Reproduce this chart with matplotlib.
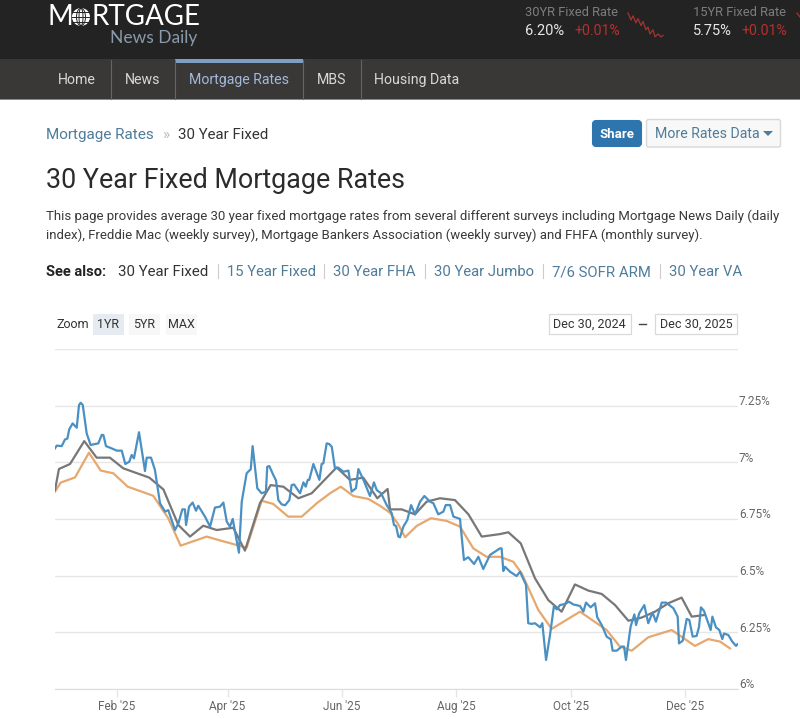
#!/usr/bin/python3
import pandas as pd
import matplotlib
matplotlib.use('Agg')
import matplotlib.pyplot as plt
import matplotlib.dates as mdates
from matplotlib.patches import Rectangle, FancyBboxPatch, Circle, Ellipse, Polygon

W, H = 800, 719
START = pd.Timestamp('2024-12-30')

# Mortgage News Daily index, days since Dec 30 2024
mnd_days = [0, 0.9, 3.6, 5.3, 6.6, 7.6, 9.4, 11.6, 12.8, 13.7, 14.8, 16.9, 19, 23.1, 24.9, 25.8, 27.2, 30.2, 32.9,
            35.6, 37.5, 39.6, 40.9, 42.1, 44.8, 48, 48.9, 51.2, 53.3, 56, 58.7, 60.4, 64, 65.8, 67.9, 69.3, 69.9,
            71.5, 73.4, 75.2, 76.4, 80, 82.7, 85.3, 88, 89.8, 91.6, 93.3, 94.8, 96, 98.1, 99.6, 102.2, 104.4, 105.4,
            107.9, 110.2, 112.5, 113.2, 114.3, 116.4, 117.9, 119.1, 120.9, 122.7, 125, 126.2, 127.5, 130.7, 132.5,
            133.7, 134.8, 135.6, 137.8, 141, 142.2, 143.1, 144.9, 146.3, 147.6, 149.3, 151.1, 153.8, 156.5, 158.2,
            160.5, 161.8, 164.4, 168, 170.1, 171.6, 173.9, 176.9, 179.6, 180.8, 181.9, 183.1, 184, 185.8, 187.9,
            189.9, 192, 194.7, 197, 200, 201.8, 204.4, 207.1, 208.4, 210.7, 212.5, 216, 218.1, 220.4, 223.5, 225.8,
            228.4, 232, 237.3, 238.2, 239.1, 240, 242.7, 246.2, 248, 251.2, 252.4, 254.2, 256, 258.7, 259.9, 261.9,
            264, 266.1, 267.6, 269.3, 272, 274.1, 276.4, 280, 281.8, 283.2, 285.7, 288, 289.2, 291.6, 294.2, 296.4,
            297.4, 299.6, 302.2, 303.5, 304.5, 307, 309, 309.9, 311.6, 314.3, 316.4, 318.7, 320.5, 323.6, 325.9,
            329.8, 332.1, 332.8, 334.8, 336.9, 338.3, 340.1, 342.2, 343.5, 344.5, 346.1, 349.7, 350.6, 352.5, 354.3,
            355.9, 356.8, 359.1, 361.2, 363.2, 363.9]
mnd_rates = [7.061, 7.073, 7.071, 7.10, 7.104, 7.145, 7.171, 7.152, 7.252, 7.262, 7.252, 7.127, 7.076, 7.083, 7.12,
             7.12, 7.071, 7.061, 7.051, 7.051, 6.992, 7.002, 7.032, 7.017, 7.132, 6.961, 7.02, 7.02, 6.966, 6.819,
             6.782, 6.789, 6.701, 6.73, 6.792, 6.792, 6.723, 6.804, 6.822, 6.786, 6.808, 6.76, 6.716, 6.80, 6.804,
             6.822, 6.738, 6.716, 6.75, 6.694, 6.601, 6.826, 6.951, 6.969, 7.071, 6.885, 6.863, 6.87, 6.98, 6.983,
             6.944, 6.919, 6.833, 6.814, 6.81, 6.833, 6.899, 6.902, 6.863, 6.911, 6.892, 6.922, 6.922, 6.992, 6.922,
             6.992, 6.995, 7.083, 7.08, 7.068, 6.973, 6.976, 6.958, 6.963, 6.87, 6.885, 6.97, 6.924, 6.851, 6.911,
             6.877, 6.863, 6.811, 6.775, 6.723, 6.719, 6.672, 6.669, 6.716, 6.745, 6.811, 6.77, 6.826, 6.851, 6.826,
             6.819, 6.77, 6.782, 6.811, 6.811, 6.76, 6.75, 6.569, 6.581, 6.551, 6.583, 6.529, 6.591, 6.62, 6.62,
             6.52, 6.539, 6.517, 6.498, 6.517, 6.459, 6.29, 6.287, 6.29, 6.272, 6.29, 6.128, 6.238, 6.366, 6.351,
             6.37, 6.375, 6.385, 6.373, 6.366, 6.341, 6.381, 6.36, 6.378, 6.316, 6.282, 6.231, 6.219, 6.169, 6.169,
             6.187, 6.187, 6.128, 6.275, 6.329, 6.282, 6.334, 6.37, 6.29, 6.337, 6.297, 6.381, 6.381, 6.356, 6.319,
             6.201, 6.213, 6.309, 6.304, 6.231, 6.234, 6.275, 6.36, 6.345, 6.26, 6.319, 6.272, 6.26, 6.22, 6.245,
             6.238, 6.209, 6.19, 6.197]

# weekly survey, grey line
mba_days = [0, 2.1, 8, 15.6, 22.2, 29.3, 36.4, 50.3, 57.8, 65.8, 72, 79.1, 86.2, 95.1, 101.3, 109.3, 115, 121.8, 129.8,
            136.9, 150.2, 157.3, 164.4, 171.9, 177.4, 178.7, 184.9, 192, 198.2, 205.3, 213.3, 220.5, 227.6, 237.3,
            241.8, 248.4, 256, 263.1, 270.2, 277.3, 284.4, 291.6, 298.7, 305.8, 312.9, 320, 327.1, 334.2, 339.6, 346.1]
mba_rates = [6.877, 6.97, 6.992, 7.093, 7.02, 7.02, 6.973, 6.932, 6.88, 6.723, 6.672, 6.72, 6.701, 6.711, 6.61, 6.819,
             6.899, 6.892, 6.841, 6.863, 6.977, 6.922, 6.932, 6.841, 6.882, 6.792, 6.792, 6.77, 6.826, 6.841, 6.833,
             6.77, 6.672, 6.683, 6.691, 6.642, 6.488, 6.392, 6.341, 6.461, 6.434, 6.419, 6.37, 6.301, 6.315, 6.341,
             6.378, 6.403, 6.319, 6.326]

# weekly survey, orange line
freddie_days = [0, 3, 10.7, 18.1, 24.4, 31.1, 38.8, 52.4, 60.4, 67, 80.9, 88.9, 102.2, 110.2, 116.4, 124.4, 131.6,
                139.6, 146.7, 152.4, 159.1, 167.1, 173.3, 178.7, 183.1, 186.7, 192.9, 200.5, 208.9, 216, 223.1, 230.2,
                237.3, 244.4, 248.9, 257.8, 264.9, 280, 294.2, 301.3, 307.6, 316.4, 328.9, 341.3, 348.4, 354.7, 360]
freddie_rates = [6.87, 6.91, 6.933, 7.042, 6.963, 6.951, 6.892, 6.852, 6.753, 6.632, 6.672, 6.653, 6.623, 6.83, 6.816,
                 6.76, 6.76, 6.819, 6.863, 6.892, 6.851, 6.838, 6.808, 6.777, 6.726, 6.669, 6.719, 6.753, 6.741, 6.716,
                 6.62, 6.583, 6.583, 6.561, 6.51, 6.348, 6.265, 6.341, 6.26, 6.187, 6.169, 6.228, 6.26, 6.19, 6.22,
                 6.209, 6.179]

y_ticks = [6, 6.25, 6.5, 6.75, 7, 7.25, 7.5]
y_labels = ['6%', '6.25%', '6.5%', '6.75%', '7%', '7.25%', '']
x_ticks = ['2025-02-01', '2025-04-01', '2025-06-01', '2025-08-01', '2025-10-01', '2025-12-01']
x_labels = ["Feb '25", "Apr '25", "Jun '25", "Aug '25", "Oct '25", "Dec '25"]

# header sparkline, 30YR
spark_x = [0, 3, 5, 8, 10, 13, 15, 18, 20, 22, 25, 27, 30, 33, 35]
spark_y = [6.32, 6.27, 6.30, 6.25, 6.28, 6.23, 6.26, 6.20, 6.22, 6.17, 6.20, 6.15, 6.17, 6.15, 6.16]

FONT = 'Roboto'
LINK = '#4f7c99'
DARK = '#333333'


def dates_from(days):
    return START + pd.to_timedelta(days, unit='D')


def label(ax, x, y, text, size=10, color=DARK, **kwargs):
    # y is the middle of the capitals, in page pixels
    kwargs.setdefault('family', FONT)
    ax.text(x, y + size * 0.49, text, fontsize=size, color=color, va='baseline', **kwargs)


def draw_header(page):
    page.add_patch(Rectangle((0, 0), W, 58.5, color='#232323', lw=0))
    page.add_patch(Rectangle((0, 58.5), W, 40.5, color='#3a3836', lw=0))
    page.add_patch(Rectangle((175, 58.5), 128, 4.5, color='#7f9ec4', lw=0))
    page.add_patch(Rectangle((0, 98.5), W, 1.2, color='#8a8a8a', lw=0))
    for x in [110.5, 174.5, 303, 360.5]:
        page.plot([x, x], [60, 99], color='#66645f', lw=0.8)

    # logo
    logo = dict(family='Lato', color='white', va='baseline')
    page.text(47, 25, 'M', fontsize=20, **logo)
    page.text(91, 25, 'RTGAGE', fontsize=20, **logo)
    page.add_patch(Circle((81, 17), 9, color='white', lw=0))
    for width in [9, 4]:
        page.add_patch(Ellipse((81, 17), width, 17.5, fill=False, ec='#232323', lw=0.7))
    for y in [12, 17, 22]:
        page.plot([72, 90], [y, y], color='#232323', lw=0.7)
    page.text(110, 43, 'News Daily', fontsize=12.5, family='Lato', color='#8a9aaa', va='baseline')

    tabs = [(58, 'Home', '#d8d8d8'), (125, 'News', '#d8d8d8'), (189, 'Mortgage Rates', '#a3b8dc'),
            (317, 'MBS', '#d8d8d8'), (374, 'Housing Data', '#d8d8d8')]
    for x, name, color in tabs:
        label(page, x, 79, name, size=10.2, color=color)

    label(page, 525, 11, '30YR Fixed Rate', size=9.3, color='#7d7d7d')
    label(page, 525, 30, '6.20%', size=10.5, color='#e6e6e6')
    label(page, 574, 30, '+0.01%', size=10.2, color='#b5312e')
    label(page, 693, 11, '15YR Fixed Rate', size=9.3, color='#7d7d7d')
    label(page, 693, 30, '5.75%', size=10.5, color='#e6e6e6')
    label(page, 741, 30, '+0.01%', size=10.2, color='#b5312e')

    # sparkline, rate scale mapped to the strip next to the 30YR quote
    xs = [628 + x for x in spark_x]
    ys = [13 + (6.32 - y) * 140 for y in spark_y]
    page.plot(xs, ys, color='#a83230', lw=0.9)
    page.plot([797, 800], [13, 17], color='#a83230', lw=0.9)


def draw_page(page):
    label(page, 46, 134, 'Mortgage Rates', size=11, color=LINK)
    label(page, 162, 134, '»', size=11, color='#bbbbbb')
    label(page, 178, 134, '30 Year Fixed', size=10.8)

    page.add_patch(FancyBboxPatch((593, 121), 48, 25, boxstyle='round,pad=0,rounding_size=3', fc='#2f75ad',
                                  ec='#2f75ad', lw=1.5))
    label(page, 617, 133.5, 'Share', size=9.5, color='white', ha='center', fontweight='semibold')
    page.add_patch(FancyBboxPatch((646.5, 119.5), 134, 27.5, boxstyle='round,pad=0,rounding_size=2', fc='#f8f8f8',
                                  ec='#d8d8d8', lw=1))
    label(page, 655, 133, 'More Rates Data', size=10.2, color=LINK)
    page.add_patch(Polygon([(763, 131), (773, 131), (768, 136)], color=LINK, lw=0))

    label(page, 46, 178, '30 Year Fixed Mortgage Rates', size=19.4, color='#2b2b2b')
    label(page, 46, 215, 'This page provides average 30 year fixed mortgage rates from several different surveys '
          'including Mortgage News Daily (daily', size=9.5, color='#3a3a3a')
    label(page, 46, 234, 'index), Freddie Mac (weekly survey), Mortgage Bankers Association (weekly survey) '
          'and FHFA (monthly survey).', size=9.5, color='#3a3a3a')

    label(page, 46, 271, 'See also:', size=10.5, color='#222222', fontweight='bold')
    label(page, 118, 271, '30 Year Fixed', size=10.8)
    see_also = [(227, '15 Year Fixed'), (333, '30 Year FHA'), (434, '30 Year Jumbo'), (552, '7/6 SOFR ARM'),
                (669, '30 Year VA')]
    for x, name in see_also:
        label(page, x, 271, name, size=10.7, color=LINK)
    for x in [218, 324, 424.5, 543, 659.5]:
        page.plot([x, x], [264, 278], color='#cccccc', lw=0.8)

    # range selector
    label(page, 56, 324, 'Zoom', size=9, color='#333333')
    buttons = [(93, '1YR', '#e6ebf2'), (129, '5YR', '#f7f7f7'), (166, 'MAX', '#f7f7f7')]
    for x, name, color in buttons:
        page.add_patch(Rectangle((x, 313.5), 31, 21, color=color, lw=0))
        label(page, x + 15.5, 324, name, size=9, color='#333333', ha='center')
    for x, width, name in [(549, 81.5, 'Dec 30, 2024'), (655, 82, 'Dec 30, 2025')]:
        page.add_patch(Rectangle((x, 313.5), width, 20.5, fc='white', ec='#d9d9d9', lw=0.9))
        label(page, x + width / 2, 323.5, name, size=9, color='#333333', ha='center')
    page.plot([639, 646], [324, 324], color='#444444', lw=1)


def draw_chart(fig):
    ax = fig.add_axes([55 / W, (H - 689) / H, 682.5 / W, 340.2 / H], facecolor='none')
    ax.plot(dates_from(freddie_days), freddie_rates, color='#e6a86e', lw=1.6, solid_joinstyle='round')
    ax.plot(dates_from(mba_days), mba_rates, color='#777777', lw=1.6, solid_joinstyle='round')
    ax.plot(dates_from(mnd_days), mnd_rates, color='#4a90c2', lw=1.6, solid_joinstyle='round')

    ax.set_xlim(START, START + pd.Timedelta(days=364))
    ax.set_ylim(6, 7.5)
    ax.set_yticks(y_ticks, [''] * len(y_ticks))
    ax.tick_params(axis='y', length=0)
    ax.grid(axis='y', color='#e6e6e6', lw=1)
    ax.set_axisbelow(True)
    # the rate labels sit a little above their gridlines, just past the right end
    for value, text in zip(y_ticks, y_labels):
        ax.annotate(text, (1, value), xycoords=ax.get_yaxis_transform(), xytext=(1, 3),
                    textcoords='offset points', va='center', fontsize=8.5, color='#666666',
                    family=FONT, annotation_clip=False)

    ax.set_xticks([mdates.date2num(pd.Timestamp(t)) for t in x_ticks], x_labels, family=FONT)
    ax.tick_params(axis='x', length=6, width=1, color='#e6e6e6', pad=2, labelsize=8.5, labelcolor='#666666')
    for side in ['top', 'left', 'right']:
        ax.spines[side].set_visible(False)
    ax.spines['bottom'].set_color('#dcdcdc')
    return ax


def main():
    fig = plt.figure(figsize=(W / 100, H / 100), dpi=100, facecolor='white')
    page = fig.add_axes([0, 0, 1, 1])
    page.set_xlim(0, W)
    page.set_ylim(H, 0)
    page.axis('off')
    draw_header(page)
    draw_page(page)
    draw_chart(fig)
    fig.savefig('out.png', dpi=100)


if __name__ == '__main__':
    main()
